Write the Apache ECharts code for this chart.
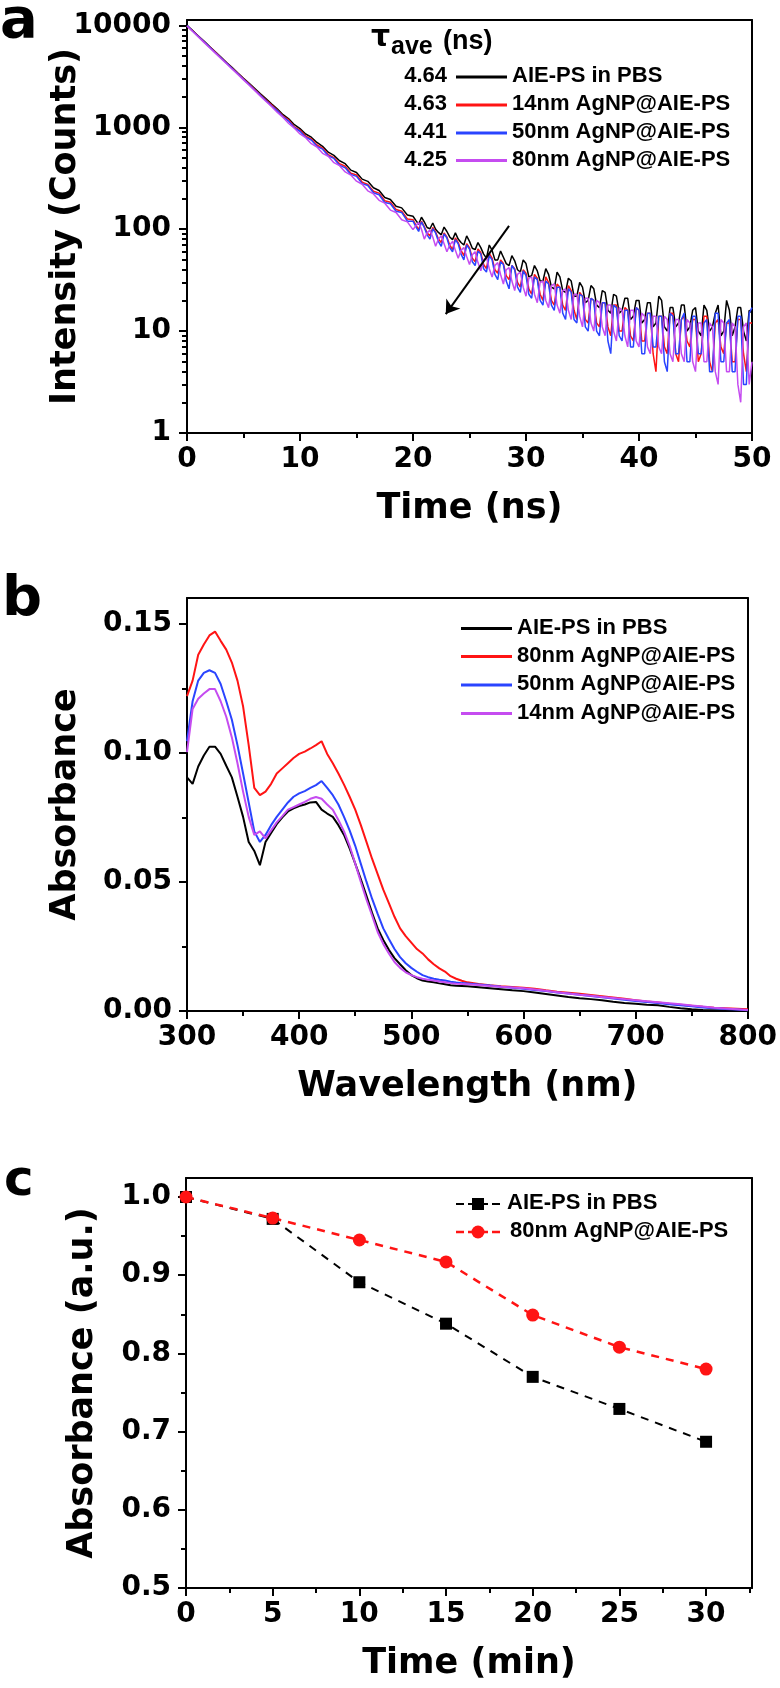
<!DOCTYPE html>
<html>
<head>
<meta charset="utf-8">
<script src="https://cdn.jsdelivr.net/npm/echarts@6/dist/echarts.min.js"></script>
<style>
  html, body { margin: 0; padding: 0; background: #fff; }
  #chart { width: 780px; height: 1688px; }
</style>
</head>
<body>
<div id="chart"></div>
<script>
// ---- panel a: fluorescence decay ----
const decayTime = [
  0,0.5,1,1.5,2,2.5,3,3.5,4,4.5, 5,5.5,6,6.5,7,7.5,8,8.5,9,9.5,
  10,10.5,11,11.5,12,12.5,13,13.5,14,14.5, 15,15.5,16,16.5,17,17.5,18,18.5,19,19.5,
  20,20.25,20.5,20.75, 21,21.25,21.5,21.75, 22,22.25,22.5,22.75, 23,23.25,23.5,23.75, 24,24.25,24.5,24.75,
  25,25.25,25.5,25.75, 26,26.25,26.5,26.75, 27,27.25,27.5,27.75, 28,28.25,28.5,28.75, 29,29.25,29.5,29.75,
  30,30.25,30.5,30.75, 31,31.25,31.5,31.75, 32,32.25,32.5,32.75, 33,33.25,33.5,33.75, 34,34.25,34.5,34.75,
  35,35.25,35.5,35.75, 36,36.25,36.5,36.75, 37,37.25,37.5,37.75, 38,38.25,38.5,38.75, 39,39.25,39.5,39.75,
  40,40.25,40.5,40.75, 41,41.25,41.5,41.75, 42,42.25,42.5,42.75, 43,43.25,43.5,43.75, 44,44.25,44.5,44.75,
  45,45.25,45.5,45.75, 46,46.25,46.5,46.75, 47,47.25,47.5,47.75, 48,48.25,48.5,48.75, 49,49.25,49.5,49.75,
  50
];
const decayPBS = [
  10000,8900,7880,7010,6190,5500,4880,4330,3850,3410, 3030,2700,2400,2130,1900,1690,1510,1330,1210,1060,
  970,860,800,710,650,570,530,470,440,380, 360,310,295,255,240,205,196,168,162,138,
  134,122,112,131, 118,104,101,115, 100,93,88,105, 95,84,79,92, 80,74,70,86,
  76,65,63,74, 66,57,52,70, 62,50,50,61, 53,46,44,55, 49,40,38,50,
  46,34,35,44, 39,31,31,41, 36,27,26,38, 34,25,24,33, 31,22,22,30,
  27,19,20,28, 26,18,17,25, 24,16,15,23, 22,15,16,21, 21,13,14,20,
  20,12,13,19, 19,11,12,22, 20,11,10,17, 17,11,12,18, 18,10,11,16,
  17,10,9,18, 16,10,11,15, 18,9,10,20, 16,9,11,17, 17,10,8,16,
  15
];
const decay14nm = [
  9900,8850,7850,6960,6150,5470,4850,4300,3800,3380, 2990,2660,2350,2090,1850,1650,1470,1290,1180,1010,
  940,820,770,670,625,540,505,440,415,355, 340,290,275,236,226,190,184,156,150,126,
  124,110,99,120, 106,92,86,104, 94,80,74,92, 84,70,63,82, 74,62,55,72,
  66,52,48,64, 59,45,41,58, 52,40,37,50, 46,35,32,44, 41,30,27,40,
  37,26,23,36, 33,23,20,34, 30,20,18,29, 27,18,16,28, 25,16,13,24,
  22,13,12,21, 20,12,11,19, 19,11,9,18, 18,10,10,17, 16,9,8,17,
  16,8,8,15, 15,6,4,14, 14,7,6,15, 15,6,5,13, 14,8,7,13,
  13,5,6,14, 14,5,4,12, 13,7,6,12, 12,5,5,13, 13,6,4,12,
  12
];
const decay50nm = [
  9950,8800,7800,6920,6120,5430,4810,4260,3780,3350, 2960,2630,2320,2060,1820,1620,1450,1270,1150,990,
  915,800,750,650,610,525,495,425,400,345, 330,280,268,228,218,183,178,150,146,120,
  120,106,95,118, 104,88,80,101, 92,76,68,90, 82,66,60,79, 72,57,50,70,
  64,48,44,61, 57,41,38,55, 50,36,32,48, 45,31,26,44, 40,27,24,39,
  35,23,21,34, 32,20,18,31, 29,18,16,27, 27,15,13,26, 24,13,12,23,
  22,11,10,21, 20,10,9,19, 19,8,6,18, 17,9,8,16, 16,7,7,17,
  16,6,6,15, 15,7,7,14, 14,5,4,15, 14,6,6,13, 15,5,5,14,
  14,6,6,12, 13,4,4,15, 15,5,5,12, 13,4,4,14, 14,3,3,15,
  17
];
const decay80nm = [
  9850,8700,7700,6820,6040,5350,4740,4200,3720,3300, 2920,2590,2290,2020,1790,1590,1400,1250,1090,980,
  860,790,690,640,555,520,450,420,365,340, 296,276,238,222,192,180,154,146,124,118,
  99,108,117,100, 80,92,98,84, 68,80,86,72, 60,70,76,62, 52,62,66,54,
  45,56,60,47, 39,50,53,41, 34,44,47,36, 29,40,42,31, 25,36,38,27,
  22,33,34,23, 19,30,31,20, 17,28,29,18, 15,25,26,16, 13,23,23,14,
  11,21,21,12, 10,20,19,11, 9,18,18,10, 8,17,16,9, 7,16,16,8,
  7,15,14,7, 6,14,14,7, 6,14,13,6, 5,13,13,6, 5,13,12,5,
  4,12,12,5, 5,12,11,4, 3,13,12,4, 4,12,11,3, 2,11,12,3,
  5
];
const decayNames = ['AIE-PS in PBS', '14nm AgNP@AIE-PS', '50nm AgNP@AIE-PS', '80nm AgNP@AIE-PS'];
const tauAve = ['4.64', '4.63', '4.41', '4.25'];
const arrowFrom = [28.5, 108];
const arrowTo = [22.9, 14.7];

// ---- panel b: absorption spectra ----
const wavelength = [
  300,305,310,315,320,325,330,335,340,345,350,355,360,365,370,375,380,385,390,395,
  400,405,410,415,420,425,430,435,440,445,450,455,460,465,470,475,480,485,490,495,
  500,505,510,515,520,525,530,535,540,545,550,
  560,570,580,590,600,610,620,630,640,650,660,670,680,690,700,710,720,730,740,750,760,770,780,790,800
];
const specPBS = [
  .0905,.088,.0947,.099,.1024,.1024,.0996,.095,.0905,.083,.0752,.0655,.062,.0565,.0655,.069,.0724,.075,.0773,.0785,
  .0794,.080,.0808,.081,.078,.0765,.0752,.072,.0682,.063,.0571,.051,.0446,.038,.032,.0275,.0237,.0205,.0181,.0158,
  .0139,.0127,.0118,.0114,.0111,.0107,.0104,.0100,.0098,.0097,.0096,
  .0092,.0088,.0084,.0080,.0077,.0072,.0066,.0060,.0054,.0049,.0046,.0042,.0036,.0031,.0028,.0024,.0022,.0016,.0011,.0007,.0004,.0003,.0002,.0001,0
];
const spec80nm = [
  .122,.128,.138,.142,.1455,.147,.1434,.140,.135,.128,.118,.103,.0864,.0836,.085,.088,.092,.094,.096,.098,
  .0996,.1005,.1017,.103,.1045,.0996,.096,.092,.0877,.083,.078,.072,.0655,.059,.053,.047,.0418,.0365,.032,.029,
  .0265,.024,.0223,.020,.0181,.0165,.0153,.0135,.0125,.0117,.0111,
  .0105,.0100,.0096,.0093,.0090,.0086,.0080,.0075,.0071,.0067,.0062,.0057,.0052,.0047,.0042,.0037,.0033,.0028,.0024,.0020,.0016,.0013,.0011,.0009,.0007
];
const spec50nm = [
  .1045,.12,.128,.131,.132,.131,.1267,.120,.1128,.103,.092,.0808,.0696,.0655,.0682,.072,.0752,.078,.0808,.083,
  .0843,.0852,.0864,.0875,.0891,.0864,.0836,.080,.0752,.070,.064,.057,.0501,.0435,.0376,.032,.0279,.024,.0209,.0185,
  .0167,.0152,.0139,.0131,.0125,.0121,.0118,.0113,.0110,.0108,.0107,
  .0103,.0099,.0094,.0090,.0086,.0081,.0077,.0072,.0068,.0063,.0058,.0053,.0048,.0044,.0039,.0035,.0031,.0026,.0022,.0018,.0014,.0011,.0008,.0006,.0003
];
const spec14nm = [
  .1003,.117,.121,.123,.1247,.1247,.12,.114,.106,.096,.085,.0752,.0682,.0696,.0669,.070,.0731,.0755,.078,.079,
  .080,.081,.0822,.0829,.0822,.080,.078,.074,.0696,.064,.0571,.050,.0432,.037,.0306,.026,.0223,.019,.0167,.015,
  .0139,.0131,.0125,.0121,.0118,.0114,.0111,.0108,.0106,.0105,.0104,
  .0101,.0097,.0094,.0091,.0088,.0083,.0078,.0073,.0068,.0063,.0059,.0054,.0050,.0046,.0042,.0038,.0034,.0030,.0026,.0021,.0017,.0013,.0010,.0007,.0004
];
const specNames = ['AIE-PS in PBS', '80nm AgNP@AIE-PS', '50nm AgNP@AIE-PS', '14nm AgNP@AIE-PS'];

// ---- panel c: absorbance vs irradiation time ----
const irrTime = [0, 5, 10, 15, 20, 25, 30];
const irrPBS = [1.0, 0.972, 0.891, 0.838, 0.770, 0.729, 0.687];
const irr80nm = [1.0, 0.973, 0.945, 0.917, 0.849, 0.808, 0.780];
const irrNames = ['AIE-PS in PBS', '80nm AgNP@AIE-PS'];

// ---- ticks ----
const aXMajor = [0, 10, 20, 30, 40, 50];
const aXMinor = [5, 15, 25, 35, 45];
const aYMajor = [1, 10, 100, 1000, 10000];
const aYMinor = [2,3,4,5,6,7,8,9, 20,30,40,50,60,70,80,90, 200,300,400,500,600,700,800,900,
                 2000,3000,4000,5000,6000,7000,8000,9000];
const bXMajor = [300, 400, 500, 600, 700, 800];
const bXMinor = [350, 450, 550, 650, 750];
const bYMajor = [0, 0.05, 0.10, 0.15];
const bYMinor = [0.025, 0.075, 0.125];
const cXMajor = [0, 5, 10, 15, 20, 25, 30];
const cXMinor = [2.5, 7.5, 12.5, 17.5, 22.5, 27.5, 32.5];
const cYMajor = [0.5, 0.6, 0.7, 0.8, 0.9, 1.0];
const cYMinor = [0.55, 0.65, 0.75, 0.85, 0.95];

const BLACK = '#000000', RED = '#ff1414', BLUE = '#2a44ff', PURPLE = '#c54cf0';
const TICK_FONT = 'DejaVu Sans';
const LEG_FONT = 'bold 22px "Liberation Sans"';

const pairs = (xs, ys) => xs.map((x, i) => [x, ys[i]]);

function axesFor(dim, g, cfg) {
  const line = { color: '#000', width: 2 };
  const base = {
    gridIndex: g, type: cfg.type || 'value', min: cfg.min, max: cfg.max,
    splitLine: { show: false }, axisPointer: { show: false }
  };
  if (cfg.type === 'log') base.logBase = 10;
  const pos = dim === 'x' ? ['bottom', 'top'] : ['left', 'right'];
  return [
    Object.assign({}, base, {
      position: pos[0],
      axisLine: { show: true, onZero: false, lineStyle: line },
      axisTick: { show: true, length: 8, lineStyle: line, customValues: cfg.major },
      axisLabel: {
        show: true, customValues: cfg.major, formatter: cfg.fmt, margin: cfg.margin,
        color: '#000', fontFamily: TICK_FONT, fontWeight: 'bold', fontSize: 28, hideOverlap: false
      },
      name: cfg.name, nameLocation: 'middle', nameGap: cfg.nameGap, nameMoveOverlap: false,
      nameTextStyle: { color: '#000', fontFamily: TICK_FONT, fontWeight: 'bold', fontSize: 35 }
    }),
    Object.assign({}, base, {
      position: pos[0],
      axisLine: { show: false, onZero: false },
      axisTick: { show: true, length: 5, lineStyle: line, customValues: cfg.minor },
      axisLabel: { show: false }
    }),
    Object.assign({}, base, {
      position: pos[1],
      axisLine: { show: true, onZero: false, lineStyle: line },
      axisTick: { show: false },
      axisLabel: { show: false }
    })
  ];
}

const xAxes = [].concat(
  axesFor('x', 0, { min: 0, max: 50, major: aXMajor, minor: aXMinor, fmt: v => String(v), margin: 13, name: 'Time (ns)', nameGap: 58 }),
  axesFor('x', 1, { min: 300, max: 800, major: bXMajor, minor: bXMinor, fmt: v => String(v), margin: 13, name: 'Wavelength (nm)', nameGap: 58 }),
  axesFor('x', 2, { min: 0, max: 32.65, major: cXMajor, minor: cXMinor, fmt: v => String(v), margin: 13, name: 'Time (min)', nameGap: 58 })
);
const yAxes = [].concat(
  axesFor('y', 0, { type: 'log', min: 1, max: 11300, major: aYMajor, minor: aYMinor, fmt: v => String(Math.round(v)), margin: 16, name: 'Intensity (Counts)', nameGap: 104 }),
  axesFor('y', 1, { min: 0, max: 0.16, major: bYMajor, minor: bYMinor, fmt: v => v.toFixed(2), margin: 15, name: 'Absorbance', nameGap: 104 }),
  axesFor('y', 2, { min: 0.5, max: 1.0243, major: cYMajor, minor: cYMinor, fmt: v => v.toFixed(1), margin: 15, name: 'Absorbance (a.u.)', nameGap: 86 })
);

function curve(name, xs, ys, color, axisIdx, width) {
  return {
    name, type: 'line', xAxisIndex: axisIdx, yAxisIndex: axisIdx,
    data: pairs(xs, ys), showSymbol: false, symbol: 'none',
    lineStyle: { color, width }, itemStyle: { color }, z: 2
  };
}

const series = [
  Object.assign(curve(decayNames[0], decayTime, decayPBS, BLACK, 0, 1.5), {
    markLine: {
      silent: true, symbol: ['none', 'arrow'], symbolSize: 13, animation: false,
      lineStyle: { color: '#000', width: 2, type: 'solid' }, label: { show: false },
      data: [[{ coord: arrowFrom }, { coord: arrowTo }]]
    }
  }),
  curve(decayNames[1], decayTime, decay14nm, RED, 0, 1.5),
  curve(decayNames[2], decayTime, decay50nm, BLUE, 0, 1.5),
  curve(decayNames[3], decayTime, decay80nm, PURPLE, 0, 1.5),
  curve(specNames[0], wavelength, specPBS, BLACK, 3, 2),
  curve(specNames[1], wavelength, spec80nm, RED, 3, 2),
  curve(specNames[2], wavelength, spec50nm, BLUE, 3, 2),
  curve(specNames[3], wavelength, spec14nm, PURPLE, 3, 2),
  {
    name: irrNames[0], type: 'line', xAxisIndex: 6, yAxisIndex: 6, data: pairs(irrTime, irrPBS),
    symbol: 'rect', symbolSize: 12, showSymbol: true,
    lineStyle: { color: BLACK, width: 2, type: [8, 7] }, itemStyle: { color: BLACK }
  },
  {
    name: irrNames[1], type: 'line', xAxisIndex: 6, yAxisIndex: 6, data: pairs(irrTime, irr80nm),
    symbol: 'circle', symbolSize: 13, showSymbol: true,
    lineStyle: { color: RED, width: 2.5, type: [8, 7] }, itemStyle: { color: RED }
  }
];

// legends and panel letters
const graphics = [];
function txt(x, y, text, font, align) {
  graphics.push({ type: 'text', x, y, silent: true,
    style: { text, font, fill: '#000', align: align || 'left', verticalAlign: 'middle' } });
}
function seg(x1, x2, y, color, width, dash) {
  graphics.push({ type: 'line', silent: true, shape: { x1, y1: y, x2, y2: y },
    style: { stroke: color, lineWidth: width, lineDash: dash || null } });
}
txt(0, 22, 'a', 'bold 56px "DejaVu Sans"');
txt(2, 600, 'b', 'bold 56px "DejaVu Sans"');
txt(4, 1182, 'c', 'bold 50px "DejaVu Sans"');

txt(371, 38, 'τ', 'bold 30px "DejaVu Sans"');
txt(391, 47, 'ave', 'bold 25px "Liberation Sans"');
txt(443, 42, '(ns)', 'bold 27px "Liberation Sans"');
const decayColors = [BLACK, RED, BLUE, PURPLE];
const rowsA = [76, 104, 132, 159.5];
rowsA.forEach((y, i) => {
  txt(447, y, tauAve[i], LEG_FONT, 'right');
  seg(456, 507, y + 1, decayColors[i], 3);
  txt(512, y, decayNames[i], LEG_FONT);
});
const rowsB = [627.5, 655.5, 684, 712.5];
rowsB.forEach((y, i) => {
  seg(461, 512, y + 1, decayColors[i], 3);
  txt(517, y, specNames[i], LEG_FONT);
});
const rowsC = [1203, 1231];
seg(456, 500, rowsC[0] + 1, BLACK, 2, [8, 4]);
graphics.push({ type: 'rect', silent: true, shape: { x: 472, y: rowsC[0] - 5, width: 12, height: 12 }, style: { fill: BLACK } });
txt(507, rowsC[0], irrNames[0], LEG_FONT);
seg(456, 500, rowsC[1] + 1, RED, 2.5, [8, 4]);
graphics.push({ type: 'circle', silent: true, shape: { cx: 478, cy: rowsC[1] + 1, r: 6.5 }, style: { fill: RED } });
txt(510, rowsC[1], irrNames[1], LEG_FONT);

const chart = echarts.init(document.getElementById('chart'), null, { renderer: 'canvas' });
chart.setOption({
  animation: false,
  backgroundColor: '#ffffff',
  grid: [
    { left: 187, top: 20, width: 565, height: 413 },
    { left: 187, top: 598, width: 565, height: 413 },
    { left: 186, top: 1178, width: 566, height: 410 }
  ],
  xAxis: xAxes,
  yAxis: yAxes,
  series,
  graphic: graphics
});
</script>
</body>
</html>
